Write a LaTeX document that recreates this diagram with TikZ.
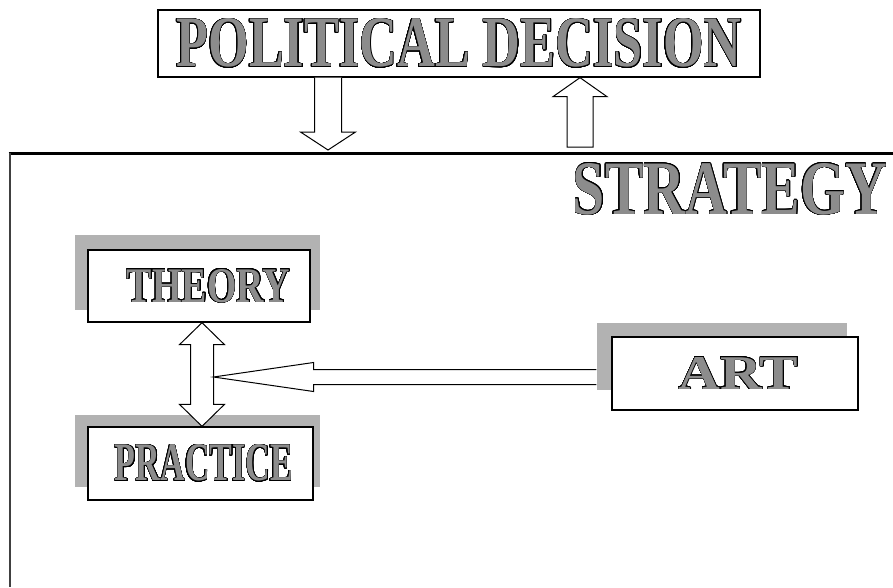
\documentclass[tikz,border=0pt]{standalone}
\usepackage{fontspec}
\setmainfont{Liberation Serif}
\usepackage{graphicx}
\usepackage{xcolor}
\usepackage{contour}
\usepackage{tikz}
\usetikzlibrary{calc}

\definecolor{lettergray}{gray}{0.55}
\definecolor{halftonegray}{gray}{0.70}
\contourlength{0.5pt}
\contournumber{32}

% outlined grey capitals, stretched to a given width and cap height
\newcommand{\wordart}[3]{\textcolor{lettergray}{\contour{black}{\resizebox{#1pt}{#2pt}{\bfseries #3}}}}

\tikzset{
	wordbox/.style={draw, line width=1.3pt, fill=white, inner sep=0pt},
	hollow/.style={draw, line width=1pt, fill=white, line join=miter},
	halftone/.style={fill=halftonegray},
}

\begin{document}
\begin{tikzpicture}[x=1pt,y=-1pt]
	
	\useasboundingbox (0,0) rectangle (893,587);
	
	% frame of the strategy field
	\draw[line width=3pt] (8.5,153) -- (893,153);
	\draw[line width=2.5pt, black!75] (10,153) -- (10,587);
	
	% shadows behind the boxes
	\fill[halftone] (75,235) rectangle (320,310);
	\fill[halftone] (75,415) rectangle (320,487);
	\fill[halftone] (597,323) rectangle (847,390);
	
	\node[wordbox, minimum width=602pt, minimum height=67pt] (pol) at (459,43.5) {\wordart{565}{48}{POLITICAL DECISION}};
	\node (strat) at (730,189.5) {\wordart{314}{51}{STRATEGY}};
	
	\node[wordbox, minimum width=222pt, minimum height=72pt] (theory) at (199,286) {\hspace*{19pt}\wordart{163}{33}{THEORY}};
	\node[wordbox, minimum width=225pt, minimum height=73pt] (practice) at (200.5,463.5) {\hspace*{7pt}\wordart{178}{36}{PRACTICE}};
	\node[wordbox, minimum width=246pt, minimum height=73pt] (art) at (735,373.5) {\hspace*{7pt}\wordart{120}{32}{ART}};
	
	\coordinate (dtip) at (328,150);
	\coordinate (ubase) at (580,147);
	\coordinate (vx) at (202,0);
	\coordinate (htip) at (213.5,377);
	
	% decision down to strategy
	\draw[hollow] ($(pol.south -| dtip)+(-13.5,0)$) -- ($(dtip)+(-13.5,-18)$) -- ($(dtip)+(-27.5,-18)$) -- (dtip)
		-- ($(dtip)+(27.5,-18)$) -- ($(dtip)+(13.5,-18)$) -- ($(pol.south -| dtip)+(13.5,0)$);
	
	% strategy back up to decision
	\draw[hollow] ($(ubase)+(-13,0)$) -- ($(pol.south -| ubase)+(-13,19)$) -- ($(pol.south -| ubase)+(-27,19)$) -- (pol.south -| ubase)
		-- ($(pol.south -| ubase)+(27,19)$) -- ($(pol.south -| ubase)+(13,19)$) -- ($(ubase)+(13,0)$) -- cycle;
	
	% theory <-> practice
	\draw[hollow] (theory.south -| vx) -- ($(theory.south -| vx)+(22.5,22)$) -- ($(theory.south -| vx)+(11.5,22)$)
		-- ($(practice.north -| vx)+(11.5,-22)$) -- ($(practice.north -| vx)+(22.5,-22)$) -- (practice.north -| vx)
		-- ($(practice.north -| vx)+(-22.5,-22)$) -- ($(practice.north -| vx)+(-11.5,-22)$)
		-- ($(theory.south -| vx)+(-11.5,22)$) -- ($(theory.south -| vx)+(-22.5,22)$) -- cycle;
	
	% art into the theory/practice pair
	\draw[hollow] ($(art.west |- htip)+(-15,-7.5)$) -- ($(htip)+(100,-7.5)$) -- ($(htip)+(100,-14.5)$) -- (htip)
		-- ($(htip)+(100,14.5)$) -- ($(htip)+(100,7.5)$) -- ($(art.west |- htip)+(-15,7.5)$);
	
\end{tikzpicture}
\end{document}
